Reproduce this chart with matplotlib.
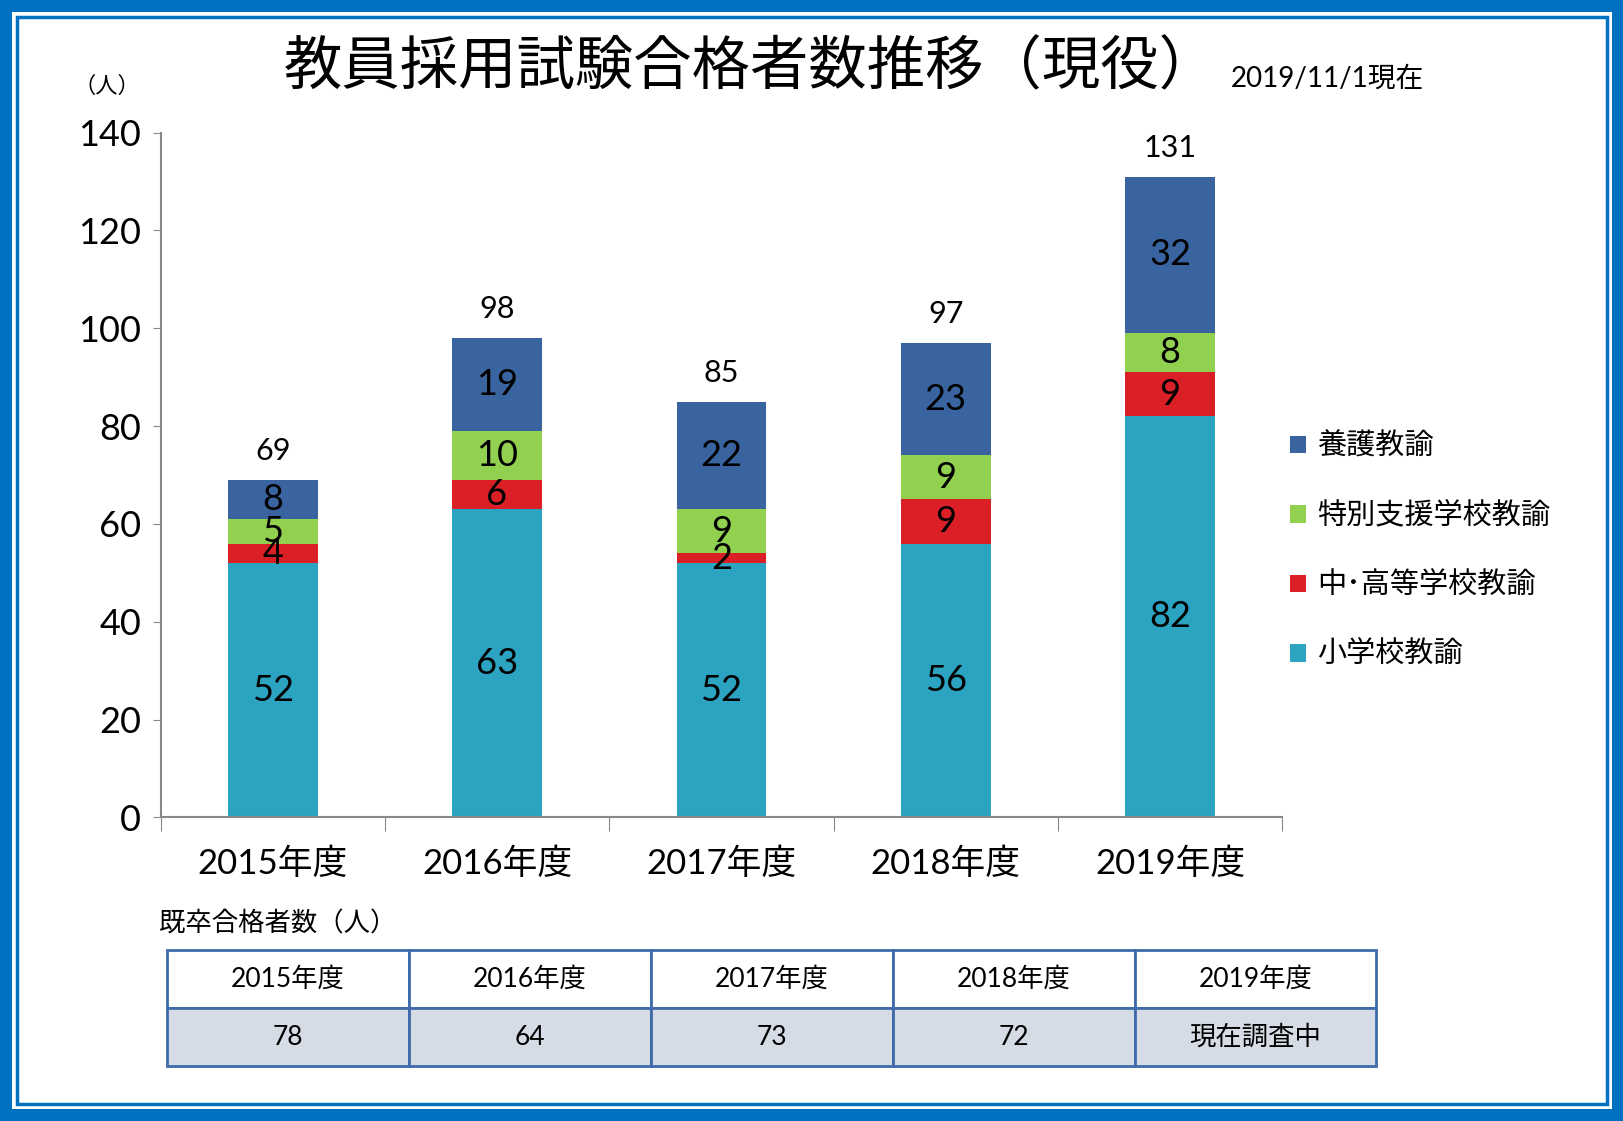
import matplotlib
matplotlib.use("Agg")
import matplotlib.pyplot as plt
import numpy as np
from matplotlib.patches import Rectangle

plt.rcParams['font.family'] = ['Lato', 'Noto Sans CJK JP', 'DejaVu Sans']

# ---------- data ----------
years = ["2015年度", "2016年度", "2017年度", "2018年度", "2019年度"]
shogakko = [52, 63, 52, 56, 82]
chuko = [4, 6, 2, 9, 9]
tokubetsu = [5, 10, 9, 9, 8]
yogo = [8, 19, 22, 23, 32]
series_names = ["小学校教諭", "中･高等学校教諭", "特別支援学校教諭", "養護教諭"]
series_colors = ["#2BA3C1", "#DA1F26", "#92D050", "#3A64A0"]

kisotsu_header = years
kisotsu_values = ["78", "64", "73", "72", "現在調査中"]

W, H = 1568, 1082  # reference layout units

fig = plt.figure(figsize=(16.24, 11.21), dpi=100)
fig.patch.set_facecolor("#0070C0")

# frame
fig.patches.append(Rectangle((12 / W, 12 / H), 1 - 24 / W, 1 - 24 / H,
                             transform=fig.transFigure, facecolor="white",
                             edgecolor="none", zorder=-2))
fig.patches.append(Rectangle((16 / W, 16 / H), 1 - 32 / W, 1 - 32 / H,
                             transform=fig.transFigure, facecolor="none",
                             edgecolor="#0070C0", linewidth=2.5, zorder=-1))

# ---------- chart ----------
ax = fig.add_axes([155 / W, 1 - 789 / H, (1238 - 155) / W, (789 - 128) / H])
x = np.arange(len(years))
width = 0.4
bottom = np.zeros(len(years))
handles = []
for vals, name, col in zip([shogakko, chuko, tokubetsu, yogo], series_names, series_colors):
    bars = ax.bar(x, vals, width, bottom=bottom, color=col, label=name)
    handles.append(bars)
    for xi, b, v in zip(x, bottom, vals):
        ax.text(xi, b + v / 2, str(v), ha="center", va="center", fontsize=26, color="black")
    bottom = bottom + np.array(vals)

totals = bottom
for xi, t in zip(x, totals):
    ax.text(xi, t + 3.0, str(int(t)), ha="center", va="bottom", fontsize=22)

ax.set_xlim(-0.5, len(years) - 0.5)
ax.set_ylim(0, 140)
ax.set_yticks(np.arange(0, 141, 20))
ax.tick_params(axis="y", labelsize=26, length=6, color="#888888", pad=8)
ax.set_xticks(np.arange(-0.5, len(years), 1))
ax.set_xticklabels([])
ax.set_xticks(x, minor=True)
ax.set_xticklabels(years, minor=True, fontsize=25)
ax.tick_params(axis="x", which="major", length=10, color="#888888")
ax.tick_params(axis="x", which="minor", length=0, pad=22)
for s in ["top", "right"]:
    ax.spines[s].set_visible(False)
for s in ["left", "bottom"]:
    ax.spines[s].set_color("#888888")
    ax.spines[s].set_linewidth(1.5)

# legend (reverse order)
leg = fig.legend(handles[::-1], series_names[::-1], loc="upper left",
                 bbox_to_anchor=(1220 / W, 1 - 392 / H), frameon=False,
                 fontsize=21, labelspacing=1.45, handlelength=0.55,
                 handleheight=0.55, handletextpad=0.4)

# ---------- texts ----------
fig.text(725 / W, 1 - 66 / H, "教員採用試験合格者数推移（現役）", ha="center", va="center",
         fontsize=42, family=['Noto Sans CJK JP'])
fig.text(1188 / W, 1 - 76 / H, "2019/11/1現在", ha="left", va="center", fontsize=20)
fig.text(103 / W, 1 - 83 / H, "（人）", ha="center", va="center", fontsize=16,
         family=['Noto Sans CJK JP'])
fig.text(154 / W, 1 - 892 / H, "既卒合格者数（人）", ha="left", va="center", fontsize=19,
         family=['Noto Sans CJK JP'])

# ---------- table ----------
tax = fig.add_axes([161 / W, 1 - 1029 / H, (1329 - 161) / W, (1029 - 917) / H])
tax.axis("off")
tbl = tax.table(cellText=[kisotsu_header, kisotsu_values],
                cellColours=[["white"] * 5, ["#D6DCE5"] * 5],
                cellLoc="center", bbox=[0, 0, 1, 1])
tbl.auto_set_font_size(False)
for (r, c), cell in tbl.get_celld().items():
    cell.set_edgecolor("#3F6BAA")
    cell.set_linewidth(2)
    cell.get_text().set_fontsize(19)

fig.savefig("out.png", dpi=100, facecolor=fig.get_facecolor())
